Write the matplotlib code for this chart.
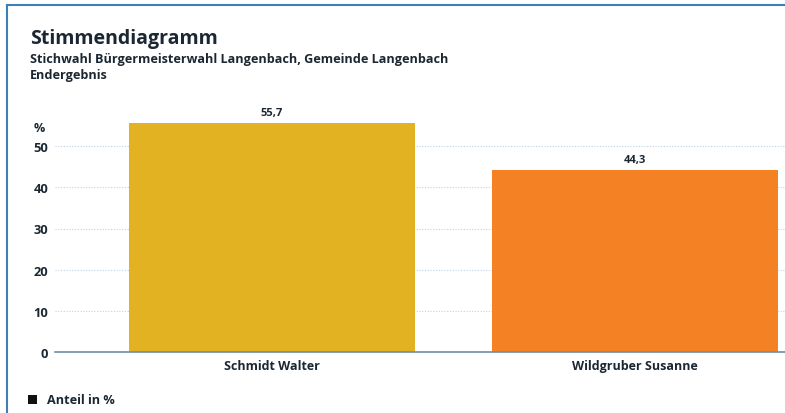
import matplotlib
matplotlib.use("Agg")
import matplotlib.pyplot as plt
from matplotlib.patches import Rectangle
from matplotlib.lines import Line2D

categories = ["Schmidt Walter", "Wildgruber Susanne"]
values = [55.7, 44.3]
value_labels = ["55,7", "44,3"]
colors = ["#E2B223", "#F48224"]
yticks = [0, 10, 20, 30, 40, 50]

plt.rcParams['font.family'] = ['Open Sans', 'DejaVu Sans']
txt = "#1b2733"
W = 'bold'

fig = plt.figure(figsize=(7.85, 4.14), dpi=100)
ax = fig.add_axes([55/785, 1-353/414, 1-55/785, (353-106)/414])

x = list(range(len(categories)))
ax.bar(x, values, width=0.79, color=colors, zorder=3)
ax.set_xlim(-0.598, 1.413)
ax.set_ylim(0, 60)
ax.set_yticks(yticks)
ax.set_yticklabels([str(t) for t in yticks], fontsize=9.3, fontweight=W, color=txt)
ax.set_xticks(x)
ax.set_xticklabels(categories, fontsize=9, fontweight=W, color=txt)
ax.tick_params(axis='both', length=0)
ax.tick_params(axis='y', pad=5)
ax.tick_params(axis='x', pad=5)
for s in ['top', 'right', 'left']:
    ax.spines[s].set_visible(False)
ax.spines['bottom'].set_color('#6d8ea3')
ax.spines['bottom'].set_linewidth(1.2)
ax.spines['bottom'].set_zorder(4)
for t in yticks[1:]:
    ax.axhline(t, color='#b9d3ea', linestyle=(0, (1, 1.5)), linewidth=0.8, zorder=1)

for xi, v, lab in zip(x, values, value_labels):
    ax.text(xi, v + 1.2, lab, ha='center', va='bottom', fontsize=8,
            fontweight=W, color=txt)

fig.text(34/785, 1-132/414, "%", ha='left', va='baseline',
         fontsize=9, fontweight=W, color=txt)

fig.text(30/785, 1-44/414, "Stimmendiagramm", fontsize=14, fontweight='bold', color=txt,
         ha='left', va='baseline')
fig.text(30/785, 1-63/414, "Stichwahl Bürgermeisterwahl Langenbach, Gemeinde Langenbach",
         fontsize=9.1, fontweight=W, color=txt, ha='left', va='baseline')
fig.text(30/785, 1-79/414, "Endergebnis", fontsize=9.1, fontweight=W, color=txt,
         ha='left', va='baseline')

fig.patches.append(Rectangle((28/785, 1-405/414), 9/785, 9/414, transform=fig.transFigure,
                             facecolor='#111111', edgecolor='none'))
fig.text(47/785, 1-404/414, "Anteil in %", fontsize=9.1, fontweight=W, color=txt,
         ha='left', va='baseline')

# frame border (left and top)
fig.add_artist(Line2D([7/785, 7/785], [0, 1-6/414], transform=fig.transFigure,
                      color='#3f7fb8', linewidth=1.5))
fig.add_artist(Line2D([7/785, 1], [1-6/414, 1-6/414], transform=fig.transFigure,
                      color='#3f7fb8', linewidth=1.5))

fig.savefig("out.png", dpi=100)
